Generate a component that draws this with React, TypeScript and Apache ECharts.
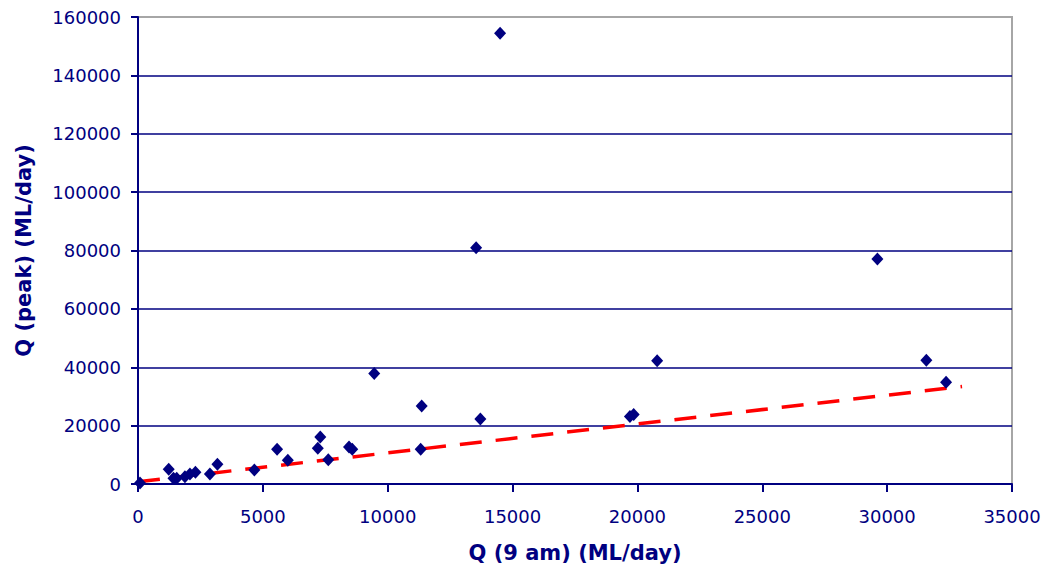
import React, { useEffect, useRef } from "react";
import * as echarts from "echarts";

// Observed data: Q (9 am) vs Q (peak), ML/day
const q9am: number[] = [
  80, 1230, 1420, 1550, 1880, 2080, 2300, 2880, 3180, 4660,
  5570, 6000, 7200, 7300, 7620, 8450, 8580, 9460, 11320, 11360,
  13710, 13540, 14500, 19700, 19850, 20790, 29610, 31570, 32360,
];
const qPeak: number[] = [
  300, 5040, 1950, 1950, 2500, 3430, 4010, 3430, 6760, 4800,
  11900, 8130, 12250, 16120, 8330, 12690, 11900, 37830, 11900, 26750,
  22300, 80950, 154400, 23100, 23800, 42190, 77070, 42430, 34880,
];

// Linear trend line end points
const trendX: number[] = [0, 33000];
const trendY: number[] = [800, 33400];

const xTicks = { min: 0, max: 35000, interval: 5000 };
const yTicks = { min: 0, max: 160000, interval: 20000 };

const NAVY = "#000080";

export default function App() {
  const ref = useRef<HTMLDivElement>(null);
  useEffect(() => {
    if (!ref.current) return;
    const chart = echarts.init(ref.current, undefined, { renderer: "svg" });
    const scatterData = q9am.map((x, i) => [x, qPeak[i]]);
    const trendData = trendX.map((x, i) => [x, trendY[i]]);
    const plain = (v: number) => String(v);
    chart.setOption({
      animation: false,
      backgroundColor: "#ffffff",
      grid: {
        left: 138,
        right: 33,
        top: 17,
        bottom: 92,
        show: true,
        borderColor: "#a6a6a6",
        borderWidth: 2,
        backgroundColor: "transparent",
      },
      xAxis: {
        type: "value",
        min: xTicks.min,
        max: xTicks.max,
        interval: xTicks.interval,
        name: "Q (9 am) (ML/day)",
        nameLocation: "middle",
        nameGap: 58,
        nameTextStyle: {
          fontFamily: "DejaVu Sans",
          fontWeight: "bold",
          fontSize: 21,
          color: NAVY,
        },
        axisLine: { show: true, onZero: false, lineStyle: { color: NAVY, width: 2 } },
        axisTick: { show: true, inside: false, length: 8, lineStyle: { color: NAVY, width: 2 } },
        axisLabel: {
          margin: 23,
          fontFamily: "DejaVu Sans",
          fontSize: 18,
          color: NAVY,
          formatter: plain,
        },
        splitLine: { show: false },
      },
      yAxis: {
        type: "value",
        min: yTicks.min,
        max: yTicks.max,
        interval: yTicks.interval,
        name: "Q (peak) (ML/day)",
        nameLocation: "middle",
        nameRotate: 90,
        nameGap: 104,
        nameTextStyle: {
          fontFamily: "DejaVu Sans",
          fontWeight: "bold",
          fontSize: 21,
          color: NAVY,
        },
        axisLine: { show: true, onZero: false, lineStyle: { color: NAVY, width: 2 } },
        axisTick: { show: true, inside: false, length: 7, lineStyle: { color: NAVY, width: 2 } },
        axisLabel: {
          margin: 17,
          fontFamily: "DejaVu Sans",
          fontSize: 18,
          color: NAVY,
          formatter: plain,
        },
        splitLine: {
          show: true,
          showMaxLine: false,
          lineStyle: { color: NAVY, width: 1.5 },
        },
      },
      series: [
        {
          type: "line",
          data: trendData,
          symbol: "none",
          lineStyle: { color: "#ff0000", width: 3.5, type: [22, 14] },
          z: 2,
        },
        {
          type: "scatter",
          data: scatterData,
          symbol: "diamond",
          symbolSize: [12, 13],
          itemStyle: { color: NAVY, opacity: 1 },
          z: 3,
        },
      ],
    });
    return () => chart.dispose();
  }, []);
  return (
    <div
      ref={ref}
      style={{ position: "fixed", left: 0, top: 0, width: 1045, height: 576, background: "#fff" }}
    />
  );
}
